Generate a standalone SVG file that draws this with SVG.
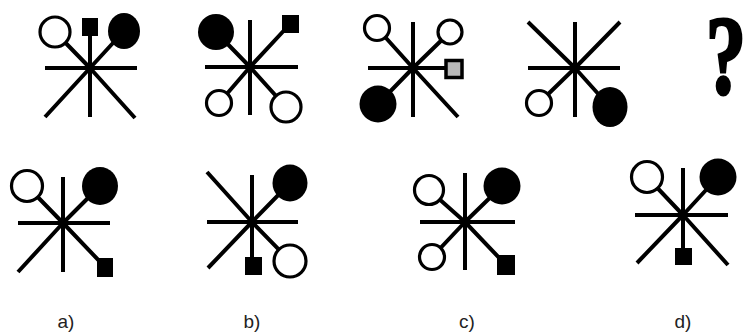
<svg xmlns="http://www.w3.org/2000/svg" width="751" height="334" viewBox="0 0 751 334">
<style>
.ln{stroke:#000;stroke-width:4;fill:none;stroke-linecap:butt}
.oc{fill:#fff;stroke:#000;stroke-width:3.2}
.fc{fill:#000;stroke:none}
.sq{fill:#000}
.gs{fill:#b8b8b8;stroke:#000;stroke-width:3.5}
.lbl{font-family:"Liberation Sans",Arial,sans-serif;font-size:19px;fill:#222;text-anchor:middle}
.q{font-family:"Liberation Serif","Times New Roman",serif;font-weight:bold;font-size:112px;fill:#000;stroke:#000;stroke-width:3;text-anchor:middle}
</style>
<rect width="751" height="334" fill="#fff"/>
<g id="fig1">
<path class="ln" d="M45 68H137M90 36V117M90 68L45 117M90 68L135 118M90 68L55 32M90 68L124 31"/>
<rect class="sq" x="82" y="18" width="16" height="18"/>
<circle class="oc" cx="55" cy="32" r="15"/>
<ellipse class="fc" cx="124" cy="31" rx="16" ry="18"/>
</g>
<g id="fig2">
<path class="ln" d="M205 67H298M250 20V115M250 67L216 32M250 67L290 24M250 67L219 103M250 67L286 107"/>
<circle class="fc" cx="216" cy="32" r="18"/>
<rect class="sq" x="282" y="15" width="17" height="18"/>
<circle class="oc" cx="219" cy="103" r="12.5"/>
<circle class="oc" cx="286" cy="107" r="15"/>
</g>
<g id="fig3">
<path class="ln" d="M368 68H450M413 22V117M413 68L377 28M413 68L450 32M413 68L378 104M413 68L458 117"/>
<circle class="oc" cx="377" cy="28" r="12.5"/>
<circle class="oc" cx="450" cy="32" r="12"/>
<circle class="fc" cx="378" cy="104" r="18.5"/>
<rect class="gs" x="446" y="60.5" width="16" height="17"/>
</g>
<g id="fig4">
<path class="ln" d="M528 68H620M575 22V117M575 68L528 22M575 68L620 22M575 68L539 103M575 68L610 107"/>
<circle class="oc" cx="539" cy="103" r="12.5"/>
<ellipse class="fc" cx="610" cy="107" rx="17.5" ry="20"/>
</g>
<g id="question">
<text class="q" transform="translate(726 93) scale(0.72 1)" x="0" y="0">?</text>
</g>
<g id="optA">
<path class="ln" d="M18 223H110M63 177V272M63 223L18 272M63 223L105 267M63 223L27 186M63 223L100 186"/>
<circle class="oc" cx="27" cy="186" r="15.5"/>
<ellipse class="fc" cx="100" cy="186" rx="18" ry="19"/>
<rect class="sq" x="97" y="258" width="16" height="19"/>
<text class="lbl" x="66" y="328">a)</text>
</g>
<g id="optB">
<path class="ln" d="M207 222H298M252 175V262M252 222L207 172M252 222L208 268M252 222L290 183M252 222L290 261"/>
<rect class="sq" x="245" y="257" width="17" height="18"/>
<ellipse class="fc" cx="290" cy="183" rx="17.5" ry="18.5"/>
<circle class="oc" cx="290" cy="261" r="16"/>
<text class="lbl" x="252" y="328">b)</text>
</g>
<g id="optC">
<path class="ln" d="M420 222H515M465 173V270M465 222L429 190M465 222L502 186M465 222L432 257M465 222L506 265"/>
<circle class="oc" cx="429" cy="190" r="14.5"/>
<circle class="fc" cx="502" cy="186" r="18.5"/>
<circle class="oc" cx="432" cy="257" r="12.5"/>
<rect class="sq" x="497" y="255" width="18" height="20"/>
<text class="lbl" x="467" y="328">c)</text>
</g>
<g id="optD">
<path class="ln" d="M635 215H728M683 168V256M683 215L647 177M683 215L718 177M683 215L637 263M683 215L728 265"/>
<circle class="oc" cx="647" cy="177" r="15.5"/>
<circle class="fc" cx="718" cy="177" r="18.5"/>
<rect class="sq" x="675" y="248" width="17" height="17"/>
<text class="lbl" x="683" y="328">d)</text>
</g>
</svg>
